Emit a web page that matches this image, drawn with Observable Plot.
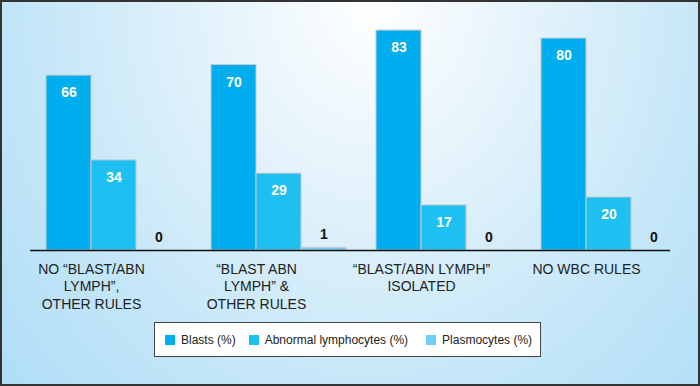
<!DOCTYPE html>
<html><head><meta charset="utf-8">
<script src="https://cdn.jsdelivr.net/npm/d3@7"></script>
<script src="https://cdn.jsdelivr.net/npm/@observablehq/plot@0.6"></script>
<style>
body{margin:0;}
#frame{position:relative;width:700px;height:386px;box-sizing:border-box;border:2px solid #333;
  background:radial-gradient(ellipse 70% 150% at 53% 0%, #ffffff 0%, #e2f2fb 35%, #c4e6f8 70%, #b0def7 100%);
  overflow:hidden;font-family:"Liberation Sans",Arial,Helvetica,sans-serif;}
#chart{position:absolute;left:0;top:0;}
#legend{position:absolute;left:152px;top:320px;width:387px;height:35px;box-sizing:border-box;border:1px solid #444;background:#fff;
  display:flex;align-items:center;font-size:12px;color:#222;padding-left:10px;white-space:nowrap;}
#legend .item{display:flex;align-items:center;flex-shrink:0;}
#legend .sw{width:10px;height:10px;margin-right:6px;flex-shrink:0;}
</style></head><body>
<div id="frame"><div id="chart"></div><div id="legend"></div></div>
<script>
const groups = ["NO “BLAST/ABN\nLYMPH”,\nOTHER RULES", "“BLAST ABN\nLYMPH” &\nOTHER RULES", "“BLAST/ABN LYMPH”\nISOLATED", "NO WBC RULES"];
const series = ["Blasts (%)", "Abnormal lymphocytes (%)", "Plasmocytes (%)"];
const blasts = [66, 70, 83, 80];
const abnormal = [34, 29, 17, 20];
const plasmocytes = [0, 1, 0, 0];
const colors = ["#00aeef", "#1ec0f2", "#6fcff5"];

const values = [blasts, abnormal, plasmocytes];
const rows = values.map((vals, s) => groups.map((g, i) => ({group: g, value: vals[i], series: series[s]})));
const BW = 45;
const font = '"Liberation Sans", Arial, Helvetica, sans-serif';
const marks = [];
rows.forEach((data, s) => {
  marks.push(Plot.barY(data, {x: "group", y: "value", fill: colors[s], stroke: "#c8c8c8", strokeWidth: 1,
    insetLeft: BW * s, insetRight: BW * (2 - s)}));
});
rows.forEach((data, s) => {
  const inside = s < 2;
  marks.push(Plot.text(data, {x: "group", y: "value", text: d => String(d.value), dx: (s - 1) * BW,
    dy: inside ? 17 : -13, fill: inside ? "#ffffff" : "#111111", fontWeight: "bold", fontSize: 14}));
});
marks.push(Plot.ruleY([0], {stroke: "#111", strokeWidth: 1.5}));
marks.push(Plot.text(groups, {x: d => d, text: d => d, frameAnchor: "bottom", lineAnchor: "top", dy: 11, dx: -BW / 2,
  fontSize: 14, lineHeight: 1.25, fill: "#222"}));

const chart = Plot.plot({
  width: 696, height: 320,
  marginTop: 0, marginBottom: 72, marginLeft: 28, marginRight: 28,
  x: {domain: groups, range: [44, 675], paddingInner: 0.1815, paddingOuter: 0, axis: null},
  y: {domain: [0, 93.6], axis: null},
  style: {background: "transparent", fontFamily: font, overflow: "visible"},
  marks
});
document.getElementById("chart").appendChild(chart);

const legend = document.getElementById("legend");
const gaps = [13, 18, 0];
series.forEach((name, i) => {
  const item = document.createElement("div");
  item.className = "item";
  item.style.marginRight = gaps[i] + "px";
  const sw = document.createElement("span");
  sw.className = "sw";
  sw.style.background = colors[i];
  const label = document.createElement("span");
  label.textContent = name;
  item.appendChild(sw);
  item.appendChild(label);
  legend.appendChild(item);
});
</script>
</body></html>
